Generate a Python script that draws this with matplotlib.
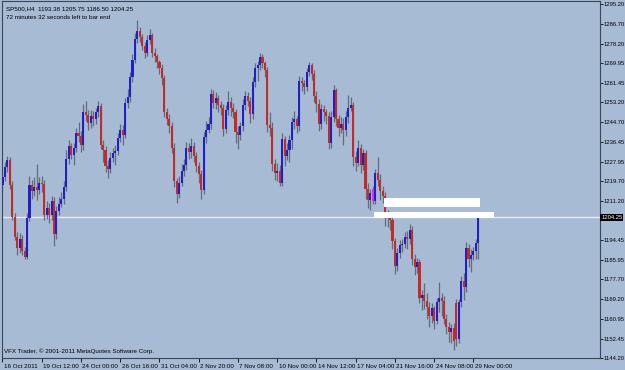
import numpy as np
import matplotlib
matplotlib.use("Agg")
import matplotlib.pyplot as plt
from matplotlib.patches import Rectangle
import matplotlib.transforms as mtransforms

plt.rcParams['font.family'] = ['Liberation Sans', 'DejaVu Sans']

# SP500 H4 bars, 16 Oct - 29 Nov 2011
opens = [
    1218.0, 1221.5, 1225.5, 1228.5, 1218.0, 1204.5, 1196.0, 1191.0, 1195.0, 1190.0,
    1187.5, 1204.0, 1218.0, 1215.5, 1217.0, 1216.0, 1219.0, 1218.5, 1205.0, 1208.0,
    1205.0, 1211.0, 1197.0, 1207.0, 1210.0, 1212.0, 1217.0, 1229.0, 1234.5, 1231.0,
    1234.0, 1240.0, 1239.0, 1235.0, 1249.0, 1248.0, 1244.5, 1247.5, 1246.0, 1249.0,
    1251.5, 1235.0, 1233.0, 1226.0, 1225.0, 1229.5, 1231.5, 1232.5, 1238.0, 1241.5,
    1239.5, 1253.0, 1255.5, 1264.0, 1271.5, 1280.5, 1283.5, 1281.0, 1277.5, 1274.5,
    1280.0, 1282.0, 1274.5, 1273.0, 1270.5, 1268.0, 1263.5, 1249.0, 1246.0, 1243.0,
    1234.0, 1219.5, 1214.0, 1219.0, 1224.0, 1226.5, 1234.0, 1232.0, 1234.5, 1230.5,
    1226.0, 1222.5, 1216.0, 1238.5, 1241.5, 1244.0, 1257.0, 1253.0, 1255.0, 1252.0,
    1251.0, 1242.0, 1250.0, 1253.5, 1251.0, 1249.0, 1240.5, 1239.5, 1243.0, 1252.0,
    1256.0, 1254.0, 1248.5, 1262.0, 1268.0, 1269.0, 1272.5, 1270.0, 1267.0, 1243.5,
    1242.5, 1227.0, 1223.0, 1224.0, 1219.0, 1237.5, 1230.5, 1233.0, 1237.0, 1245.0,
    1246.0, 1243.0, 1262.5, 1261.5, 1260.0, 1266.0, 1269.0, 1265.5, 1256.0, 1252.5,
    1244.0, 1250.5, 1249.0, 1247.5, 1236.0, 1247.0, 1258.5, 1246.0, 1242.5, 1244.0,
    1241.5, 1247.0, 1251.0, 1252.0, 1230.0, 1227.5, 1234.0, 1226.5, 1231.5, 1216.5,
    1211.5, 1216.5, 1211.0, 1223.0, 1220.0, 1215.5, 1213.5, 1205.5, 1204.5, 1203.0,
    1194.0, 1183.5, 1189.0, 1192.5, 1193.0, 1196.0, 1195.0, 1199.0, 1186.5, 1183.0,
    1185.0, 1170.0, 1171.0, 1168.5, 1166.0, 1162.0, 1165.5, 1160.0, 1168.0, 1170.0,
    1168.5, 1161.0, 1157.5, 1155.5, 1157.0, 1167.5, 1152.5, 1168.0, 1177.0, 1174.5,
    1191.0, 1186.5, 1188.0, 1190.0, 1193.38,
]
highs = [
    1223.5, 1228.0, 1230.5, 1230.0, 1219.5, 1206.0, 1198.0, 1197.5, 1196.5, 1191.5,
    1206.0, 1222.0, 1220.0, 1221.5, 1227.0, 1221.5, 1222.0, 1220.0, 1211.0, 1210.5,
    1213.5, 1213.0, 1209.0, 1213.0, 1215.0, 1219.5, 1233.0, 1237.0, 1236.0, 1236.0,
    1242.5, 1245.0, 1241.0, 1252.5, 1254.0, 1250.0, 1250.0, 1249.5, 1251.0, 1254.0,
    1253.0, 1237.0, 1234.5, 1228.5, 1232.0, 1234.0, 1235.0, 1240.0, 1244.0, 1243.5,
    1255.0, 1259.0, 1266.0, 1274.0, 1283.0, 1288.5, 1285.5, 1282.5, 1279.0, 1282.0,
    1284.5, 1283.0, 1276.5, 1274.0, 1271.5, 1269.5, 1265.0, 1251.0, 1248.5, 1245.0,
    1236.0, 1221.0, 1222.0, 1227.0, 1229.0, 1236.5, 1236.0, 1238.0, 1236.5, 1232.0,
    1228.0, 1224.5, 1240.5, 1245.5, 1247.0, 1259.0, 1258.5, 1257.5, 1256.5, 1254.0,
    1252.5, 1252.0, 1258.0, 1255.5, 1253.0, 1250.5, 1243.0, 1245.0, 1254.5, 1258.0,
    1257.5, 1255.5, 1264.0, 1270.0, 1271.0, 1274.5, 1274.0, 1271.0, 1268.5, 1249.0,
    1245.0, 1229.0, 1227.5, 1226.5, 1240.0, 1239.0, 1236.0, 1239.5, 1247.0, 1249.5,
    1247.5, 1264.5, 1264.0, 1263.0, 1268.0, 1270.5, 1270.0, 1267.0, 1258.0, 1254.5,
    1252.5, 1252.0, 1250.5, 1249.0, 1249.5, 1260.5, 1259.5, 1248.0, 1247.0, 1246.5,
    1249.5, 1256.5, 1255.5, 1253.5, 1232.5, 1237.0, 1235.5, 1233.5, 1233.0, 1219.0,
    1216.5, 1217.5, 1225.0, 1230.0, 1222.5, 1217.5, 1215.0, 1207.5, 1206.5, 1204.5,
    1195.5, 1191.0, 1194.5, 1195.0, 1198.0, 1198.5, 1201.5, 1200.5, 1188.5, 1187.0,
    1186.5, 1173.0, 1176.0, 1172.0, 1168.0, 1167.5, 1166.5, 1170.0, 1176.5, 1172.0,
    1170.5, 1163.0, 1159.5, 1158.5, 1159.0, 1169.5, 1169.5, 1179.0, 1180.5, 1193.5,
    1193.0, 1190.5, 1191.5, 1195.0, 1205.75,
]
lows = [
    1214.5, 1219.5, 1223.5, 1216.5, 1203.0, 1194.5, 1188.0, 1189.0, 1188.0, 1186.5,
    1186.5, 1202.5, 1212.0, 1213.5, 1211.5, 1214.0, 1215.0, 1203.0, 1203.5, 1202.0,
    1203.0, 1192.0, 1195.0, 1205.0, 1208.5, 1210.0, 1215.5, 1227.0, 1229.0, 1226.5,
    1232.0, 1236.5, 1232.0, 1233.0, 1245.5, 1241.5, 1242.5, 1243.0, 1244.0, 1247.0,
    1233.5, 1228.0, 1223.5, 1221.0, 1223.0, 1228.0, 1226.5, 1231.0, 1236.5, 1235.0,
    1238.0, 1251.0, 1253.5, 1262.0, 1270.0, 1278.5, 1279.0, 1275.5, 1272.0, 1273.0,
    1278.0, 1272.5, 1270.5, 1268.0, 1265.5, 1260.5, 1247.0, 1243.5, 1240.0, 1231.5,
    1217.0, 1210.5, 1212.5, 1217.5, 1222.0, 1224.5, 1229.0, 1229.5, 1228.0, 1223.5,
    1219.0, 1212.0, 1214.0, 1236.0, 1240.0, 1242.0, 1251.0, 1250.5, 1249.0, 1248.0,
    1239.0, 1240.0, 1248.0, 1247.5, 1246.5, 1236.0, 1233.5, 1237.0, 1241.0, 1250.0,
    1251.5, 1244.5, 1246.0, 1260.0, 1262.5, 1267.0, 1268.0, 1264.0, 1240.5, 1239.0,
    1224.0, 1220.0, 1219.5, 1217.5, 1217.5, 1226.0, 1228.5, 1228.0, 1233.5, 1242.0,
    1240.0, 1241.0, 1258.0, 1257.0, 1258.0, 1264.5, 1263.0, 1253.5, 1249.0, 1241.0,
    1242.0, 1245.5, 1244.0, 1233.5, 1234.0, 1245.0, 1243.0, 1239.0, 1240.0, 1235.0,
    1239.0, 1244.5, 1249.5, 1226.0, 1224.0, 1226.0, 1223.0, 1224.5, 1212.0, 1208.0,
    1207.5, 1210.0, 1210.0, 1217.5, 1211.5, 1210.5, 1200.5, 1200.0, 1199.0, 1190.5,
    1180.0, 1181.5, 1187.0, 1189.5, 1191.0, 1190.5, 1193.0, 1184.0, 1179.5, 1180.5,
    1167.5, 1164.5, 1165.0, 1161.0, 1157.5, 1159.0, 1156.5, 1158.5, 1164.0, 1162.0,
    1158.5, 1154.5, 1151.0, 1150.5, 1147.5, 1149.5, 1150.5, 1166.0, 1169.0, 1172.5,
    1183.0, 1181.0, 1186.0, 1186.5, 1186.5,
]
closes = [
    1221.5, 1225.5, 1228.5, 1218.0, 1204.5, 1196.0, 1191.0, 1195.0, 1190.0, 1187.5,
    1204.0, 1218.0, 1215.5, 1217.0, 1216.0, 1219.0, 1218.5, 1205.0, 1208.0, 1205.0,
    1211.0, 1197.0, 1207.0, 1210.0, 1212.0, 1217.0, 1229.0, 1234.5, 1231.0, 1234.0,
    1240.0, 1239.0, 1235.0, 1249.0, 1248.0, 1244.5, 1247.5, 1246.0, 1249.0, 1251.5,
    1235.0, 1233.0, 1226.0, 1225.0, 1229.5, 1231.5, 1232.5, 1238.0, 1241.5, 1239.5,
    1253.0, 1255.5, 1264.0, 1271.5, 1280.5, 1283.5, 1281.0, 1277.5, 1274.5, 1280.0,
    1282.0, 1274.5, 1273.0, 1270.5, 1268.0, 1263.5, 1249.0, 1246.0, 1243.0, 1234.0,
    1219.5, 1214.0, 1219.0, 1224.0, 1226.5, 1234.0, 1232.0, 1234.5, 1230.5, 1226.0,
    1222.5, 1216.0, 1238.5, 1241.5, 1244.0, 1257.0, 1253.0, 1255.0, 1252.0, 1251.0,
    1242.0, 1250.0, 1253.5, 1251.0, 1249.0, 1240.5, 1239.5, 1243.0, 1252.0, 1256.0,
    1254.0, 1248.5, 1262.0, 1268.0, 1269.0, 1272.5, 1270.0, 1267.0, 1243.5, 1242.5,
    1227.0, 1223.0, 1224.0, 1219.0, 1237.5, 1230.5, 1233.0, 1237.0, 1245.0, 1246.0,
    1243.0, 1262.5, 1261.5, 1260.0, 1266.0, 1269.0, 1265.5, 1256.0, 1252.5, 1244.0,
    1250.5, 1249.0, 1247.5, 1236.0, 1247.0, 1258.5, 1246.0, 1242.5, 1244.0, 1241.5,
    1247.0, 1251.0, 1252.0, 1230.0, 1227.5, 1234.0, 1226.5, 1231.5, 1216.5, 1211.5,
    1214.5, 1211.0, 1223.0, 1220.0, 1215.5, 1213.5, 1205.5, 1204.5, 1203.0, 1194.0,
    1183.5, 1189.0, 1192.5, 1193.0, 1196.0, 1195.0, 1199.0, 1186.5, 1183.0, 1185.0,
    1170.0, 1171.0, 1168.5, 1166.0, 1162.0, 1165.5, 1160.0, 1168.0, 1170.0, 1168.5,
    1161.0, 1157.5, 1155.5, 1157.0, 1151.5, 1152.5, 1168.0, 1177.0, 1174.5, 1191.0,
    1186.5, 1188.0, 1190.0, 1193.4, 1204.25,
]
marked_bar = 151          # bar drawn in magenta on the chart

date_ticks = [0, 16, 32, 48, 64, 80, 96, 112, 128, 144, 160, 176, 192]
date_labels = ["16 Oct 2011", "19 Oct 12:00", "24 Oct 00:00", "26 Oct 16:00",
               "31 Oct 04:00", "2 Nov 20:00", "7 Nov 08:00", "10 Nov 00:00",
               "14 Nov 12:00", "17 Nov 04:00", "21 Nov 16:00", "24 Nov 08:00",
               "29 Nov 00:00"]
price_ticks = [1295.20, 1286.70, 1278.20, 1269.95, 1261.45, 1253.20, 1244.70,
               1236.45, 1227.95, 1219.70, 1211.20, 1194.45, 1185.95, 1177.70,
               1169.20, 1160.95, 1152.45, 1144.20]
last_price = 1204.25

# white zones drawn on the chart: (first bar, last bar, low, high)
zones = [(155.5, 194.5, 1208.6, 1212.4),
         (151.5, 200.5, 1203.9, 1206.5)]

BG = "#a8bbd4"
BULL = "#2020c8"
BEAR = "#c42a26"
WICK = "#646c78"
FS = 4.5        # chart texts
FS_PRICE = 4.2  # price scale

fig = plt.figure(figsize=(6.25, 3.7), dpi=100, facecolor=BG)
ax = fig.add_axes([2 / 625, 12 / 370, 598 / 625, 357 / 370])
ax.set_facecolor(BG)

n = len(closes)
x = np.arange(n)
o = np.array(opens)
c = np.array(closes)
h = np.array(highs)
l = np.array(lows)

# wicks
ax.vlines(x, l, h, color=WICK, linewidth=0.9, zorder=2)

# bodies
up = c >= o
colors = np.where(up, BULL, BEAR).astype(object)
colors[marked_bar] = "#e030e0"
bottoms = np.minimum(o, c)
heights = np.maximum(np.abs(c - o), 0.3)
ax.bar(x, heights, bottom=bottoms, width=0.85, color=list(colors),
       linewidth=0, zorder=3)

# white zones
for x0, x1, y0, y1 in zones:
    ax.add_patch(Rectangle((x0, y0), x1 - x0, y1 - y0, facecolor="white",
                           edgecolor="none", zorder=4))

# current price line
ax.axhline(last_price, color="#e6ecf4", linewidth=1.0, zorder=1)

ax.set_xlim(-0.2, 243.6)
ax.set_ylim(1144.2, 1296.5)

ax.yaxis.tick_right()
ax.set_yticks(price_ticks)
ax.set_yticklabels(["%.2f" % p for p in price_ticks])
ax.tick_params(axis="y", direction="out", length=2, width=0.6, pad=0.4,
               labelsize=FS_PRICE, colors="black")
ax.set_xticks(date_ticks)
ax.set_xticklabels(date_labels, ha="left")
ax.tick_params(axis="x", direction="out", length=3, width=0.6, pad=1,
               labelsize=FS, colors="black")
for lbl in ax.get_xticklabels():
    lbl.set_transform(lbl.get_transform() +
                      mtransforms.ScaledTranslation(1.5 / 100, 0, fig.dpi_scale_trans))

for side in ["left", "right", "top", "bottom"]:
    ax.spines[side].set_color("#3a4656")
    ax.spines[side].set_linewidth(0.8)

# last price label on the price scale
trans = mtransforms.blended_transform_factory(ax.transAxes, ax.transData)
ax.text(1.002, last_price, "%.2f" % last_price, transform=trans, fontsize=FS_PRICE,
        color="white", va="center", ha="left", zorder=6, clip_on=False,
        bbox=dict(boxstyle="square,pad=0.15", facecolor="black", edgecolor="none"))

ax.text(0.006, 0.985, "SP500,H4  1193.38 1205.75 1186.50 1204.25",
        transform=ax.transAxes, fontsize=FS, va="top", ha="left")
ax.text(0.006, 0.962, "72 minutes 32 seconds left to bar end",
        transform=ax.transAxes, fontsize=FS, va="top", ha="left")
ax.text(0.004, 0.01, "VFX Trader, \u00a9 2001-2011 MetaQuotes Software Corp.",
        transform=ax.transAxes, fontsize=FS, va="bottom", ha="left")

fig.savefig("out.png", dpi=100, facecolor=BG)
